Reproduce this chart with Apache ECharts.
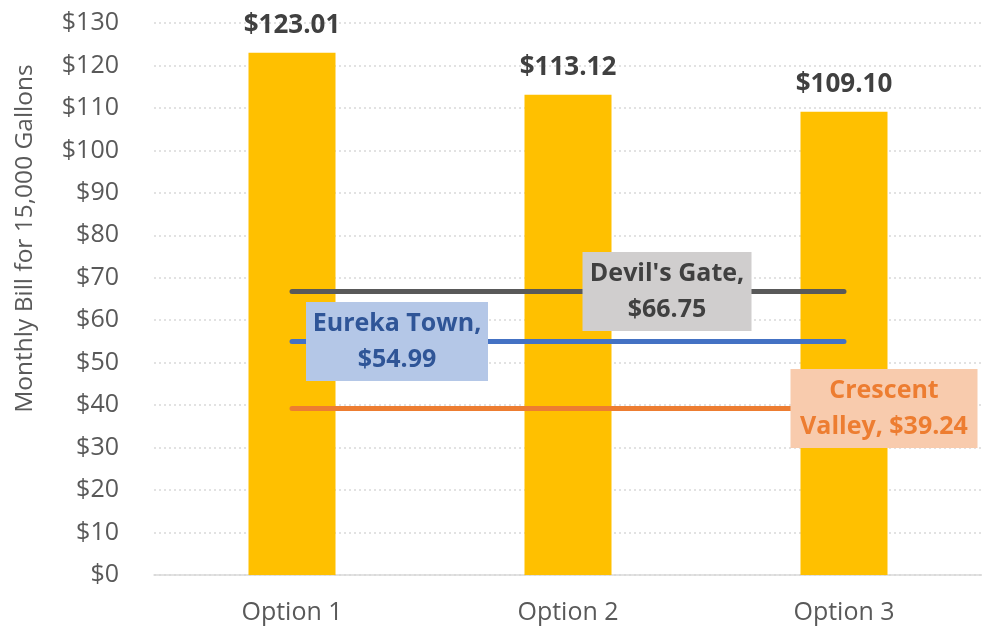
<!DOCTYPE html>
<html>
<head>
<meta charset="utf-8">
<script src="https://cdn.jsdelivr.net/npm/echarts@6/dist/echarts.min.js"></script>
<style>
  html, body { margin: 0; padding: 0; background: #ffffff; }
  #chart { width: 982px; height: 631px; }
</style>
</head>
<body>
<div id="chart"></div>
<script>
// Rate options and the monthly bill each produces
const categories = ['Option 1', 'Option 2', 'Option 3'];
const optionBills = [123.01, 113.12, 109.10];

// Neighbouring communities' bills shown as reference lines
const devilsGate = 66.75;
const eurekaTown = 54.99;
const crescentValley = 39.24;

const yTicks = { min: 0, max: 130, interval: 10 };
const yTitle = 'Monthly Bill for 15,000 Gallons';

const FONT = '"Open Sans"';

function money(v) { return '$' + v.toFixed(2); }

// A flat line across all options, labelled at one chosen option
function refLine(name, value, color, labelIdx, labelText, box, textColor, dx, w) {
  return {
    type: 'line',
    name: name,
    z: 5,
    symbol: 'circle',
    symbolSize: 1,
    showSymbol: true,
    lineStyle: { color: color, width: 5, cap: 'round' },
    itemStyle: { color: color },
    emphasis: { disabled: true },
    data: categories.map((c, i) => {
      if (i !== labelIdx) return value;
      return {
        value: value,
        label: {
          show: true,
          position: 'inside',
          offset: [dx, 0],
          formatter: labelText,
          backgroundColor: box,
          color: textColor,
          fontFamily: FONT,
          fontWeight: 'bold',
          fontSize: 25,
          lineHeight: 36,
          width: w,
          align: 'center',
          padding: [4, 9, 3, 9]
        }
      };
    })
  };
}

const chart = echarts.init(document.getElementById('chart'));
chart.setOption({
  animation: false,
  grid: { left: 154, right: -5, top: 23, bottom: 56, containLabel: false },
  xAxis: {
    type: 'category',
    data: categories,
    axisLine: { lineStyle: { color: '#D9D9D9', width: 1.5 } },
    axisTick: { show: false },
    axisLabel: { color: '#595959', fontFamily: FONT, fontSize: 25, margin: 25 }
  },
  yAxis: {
    type: 'value',
    min: yTicks.min,
    max: yTicks.max,
    interval: yTicks.interval,
    axisLine: { show: false },
    axisTick: { show: false },
    splitLine: { lineStyle: { color: '#D9D9D9', type: [2, 3], width: 1.5 } },
    axisLabel: {
      color: '#595959', fontFamily: FONT, fontSize: 25, margin: 35,
      formatter: v => '$' + v
    }
  },
  graphic: [{
    type: 'text',
    x: 25, y: 238.5,
    rotation: Math.PI / 2,
    style: {
      text: yTitle,
      fill: '#595959',
      font: '24.5px ' + FONT,
      align: 'center',
      verticalAlign: 'middle'
    }
  }],
  series: [
    {
      type: 'bar',
      z: 2,
      barWidth: 87,
      itemStyle: { color: '#FFC000' },
      emphasis: { disabled: true },
      label: {
        show: true,
        position: 'top',
        distance: 14,
        color: '#404040',
        fontFamily: FONT,
        fontWeight: 'bold',
        fontSize: 26,
        formatter: p => money(p.value)
      },
      data: optionBills
    },
    refLine("Devil's Gate", devilsGate, '#595959', 1,
      "Devil's Gate,\n" + money(devilsGate), '#D0CECE', '#404040', 99, 151),
    refLine('Eureka Town', eurekaTown, '#4472C4', 0,
      'Eureka Town,\n' + money(eurekaTown), '#B4C7E7', '#2F5597', 105, 164),
    refLine('Crescent Valley', crescentValley, '#ED7D31', 2,
      'Crescent\nValley, ' + money(crescentValley), '#F8CBAD', '#ED7D31', 40, 169)
  ]
});
</script>
</body>
</html>
